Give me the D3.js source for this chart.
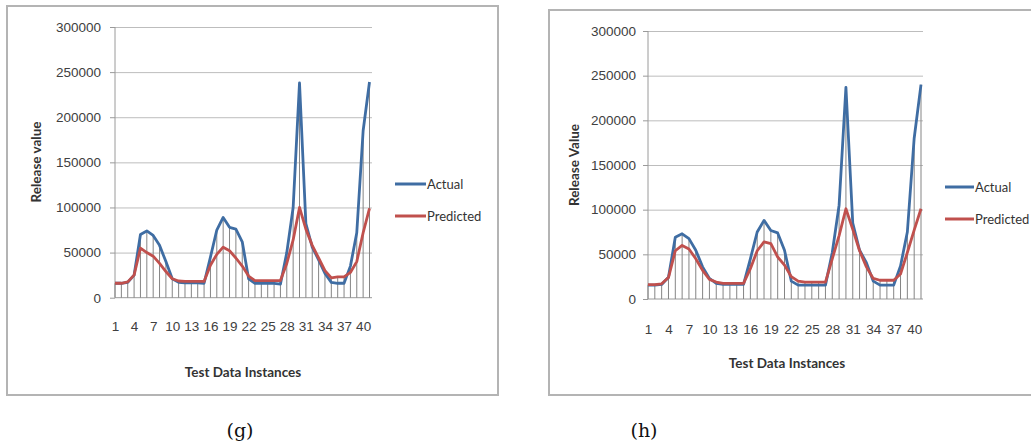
<!DOCTYPE html>
<html>
<head>
<meta charset="utf-8">
<script src="https://cdn.jsdelivr.net/npm/d3@7"></script>
<style>
    body { margin: 0; background: #fff; }
    svg { display: block; font-family: Lato, "Open Sans", sans-serif; }
    .frame { fill: #fff; stroke: #b4b4b4; stroke-width: 2; }
    .grid line { stroke: #bdbdbd; stroke-width: 1; }
    .grid path { display: none; }
    .axis path, .axis line { stroke: #9a9a9a; }
    .axis text { fill: #404040; font-size: 13.5px; }
    .axis-label { font-weight: bold; font-size: 13.5px; fill: #333; }
    .legend text { font-size: 13px; fill: #333; }
    .caption { font-family: "DejaVu Serif", serif; font-size: 19px; fill: #111; }
</style>
</head>
<body>
<svg id="chart" width="1031" height="443"></svg>
<script>
// test data instances 1..41
const instances = d3.range(1, 42);
const xTickLabels = [1, 4, 7, 10, 13, 16, 19, 22, 25, 28, 31, 34, 37, 40];
const yTickValues = [0, 50000, 100000, 150000, 200000, 250000, 300000];
const seriesNames = ["Actual", "Predicted"];
const seriesColors = ["#3f6da3", "#c0504d"];

// (g)
const actualG = [16000, 16000, 17000, 25000, 70000, 74000, 69000, 58000, 40000, 21000,
    17000, 16500, 16500, 16500, 16000, 45000, 75000, 89000, 78000, 76000,
    62000, 21000, 16000, 16000, 16000, 16000, 15000, 50000, 100000, 238000,
    82000, 56000, 42000, 27000, 17000, 16000, 16000, 35000, 72000, 185000, 239000];
const predictedG = [16000, 16000, 17500, 25000, 55000, 50000, 46000, 38000, 29000, 21000,
    18500, 18000, 18000, 18000, 18000, 36000, 48000, 56000, 52000, 44000,
    35000, 24000, 19000, 19000, 19000, 19000, 19000, 38000, 64000, 100000,
    76000, 58000, 44000, 30000, 22000, 23000, 23000, 28000, 40000, 72000, 99000];

// (h)
const actualH = [15500, 15500, 16300, 24400, 69000, 73000, 67600, 54600, 36000, 23000,
    17500, 16300, 16300, 16300, 16300, 45000, 75000, 88000, 76700, 74000,
    54500, 20000, 15500, 15500, 15500, 15500, 15500, 52000, 105000, 237000,
    85000, 54600, 40600, 20000, 15500, 15500, 15500, 37000, 75000, 180000, 240000];
const predictedH = [16000, 16000, 17000, 24000, 54000, 60000, 56000, 45000, 32000, 22000,
    19000, 17500, 17500, 17500, 17500, 34000, 54000, 64000, 62000, 47000,
    38000, 25000, 20000, 19000, 19000, 19000, 19000, 45000, 71000, 101000,
    78000, 54000, 36000, 23000, 21000, 21000, 21000, 28000, 52000, 77000, 101000];

class Release_Chart {
    constructor(svg, layout) {
        this.layout = layout;
        let g = svg.append("g");
        this.g = g;

        g.append("rect").attr("class", "frame")
            .attr("x", layout.box[0]).attr("y", layout.box[1])
            .attr("width", layout.box[2]).attr("height", layout.box[3]);

        this.xScale = d3.scalePoint().domain(instances).range([layout.left, layout.lastX]);
        this.yScale = d3.scaleLinear().domain([0, 300000]).range([layout.zeroY, layout.topY]);

        //gridlines
        g.append("g").attr("class", "grid")
            .attr("transform", "translate(" + layout.left + ",0)")
            .call(d3.axisLeft(this.yScale).tickValues(yTickValues.slice(1))
                .tickSize(-(layout.right - layout.left)).tickFormat(""));

        //y axis
        let yAx = g.append("g").attr("class", "axis")
            .attr("transform", "translate(" + layout.left + ",0)")
            .call(d3.axisLeft(this.yScale).tickValues(yTickValues).tickSize(5)
                .tickPadding(layout.yPad).tickFormat(d3.format("d")));
        yAx.select(".domain").attr("d", "M0," + layout.zeroY + "V" + layout.topY);

        //x axis
        let xAx = g.append("g").attr("class", "axis")
            .attr("transform", "translate(0," + layout.zeroY + ")")
            .call(d3.axisBottom(this.xScale).tickValues(xTickLabels).tickSize(0).tickPadding(layout.xPad));
        xAx.select(".domain").attr("d", "M" + layout.left + ",0H" + layout.right);

        g.append("text").attr("class", "axis-label")
            .text(layout.yTitle)
            .style("text-anchor", "middle")
            .attr("transform", "translate(" + layout.yTitleX + "," + layout.yTitleY + ") rotate(270)");

        g.append("text").attr("class", "axis-label")
            .text("Test Data Instances")
            .style("text-anchor", "middle")
            .attr("transform", "translate(" + layout.xTitleX + "," + layout.xTitleY + ")");

        //Legend
        let legend = g.append("g").attr("class", "legend")
            .attr("transform", "translate(" + layout.legend[0] + "," + layout.legend[1] + ")");
        seriesNames.forEach((name, i) => {
            legend.append("line")
                .attr("x1", 0).attr("x2", layout.legendLen)
                .attr("y1", i * 32).attr("y2", i * 32)
                .attr("stroke", seriesColors[i]).attr("stroke-width", 3);
            legend.append("text")
                .attr("x", layout.legendLen + 1).attr("y", i * 32 + 4.5)
                .text(name);
        });

        svg.append("text").attr("class", "caption")
            .attr("x", layout.caption[0]).attr("y", layout.caption[1])
            .style("text-anchor", "middle")
            .text(layout.captionText);
    }

    update(actual, predicted) {
        let x = this.xScale, y = this.yScale;
        let rows = instances.map((d, i) => ({ id: d, a: actual[i], p: predicted[i] }));

        //drop lines
        this.g.append("g").selectAll("line")
            .data(rows).enter().append("line")
            .attr("x1", d => x(d.id)).attr("x2", d => x(d.id))
            .attr("y1", d => y(Math.max(d.a, d.p))).attr("y2", y(0))
            .attr("stroke", "#858585").attr("stroke-width", 1);

        let line = d3.line().x(d => x(d.id)).y(d => y(d.v));
        [actual, predicted].forEach((vals, k) => {
            this.g.append("path")
                .datum(instances.map((d, i) => ({ id: d, v: vals[i] })))
                .attr("d", line)
                .attr("fill", "none")
                .attr("stroke", seriesColors[k])
                .attr("stroke-width", 2.8)
                .attr("stroke-linejoin", "round");
        });
    }
}

let svg = d3.select("#chart");

let chartG = new Release_Chart(svg, {
    box: [7, 6, 491, 389], left: 115, lastX: 369.5, right: 372, zeroY: 297.7, topY: 27,
    yPad: 9, xPad: 24, yTitle: "Release value", yTitleX: 41, yTitleY: 162,
    xTitleX: 243, xTitleY: 377, legend: [395, 184], legendLen: 31,
    caption: [240, 437], captionText: "(g)"
});
chartG.update(actualG, predictedG);

let chartH = new Release_Chart(svg, {
    box: [549, 10, 500, 385], left: 648, lastX: 921, right: 923, zeroY: 299, topY: 31,
    yPad: 7, xPad: 25, yTitle: "Release Value", yTitleX: 579, yTitleY: 165,
    xTitleX: 787, xTitleY: 368, legend: [945, 187], legendLen: 29,
    caption: [644, 437], captionText: "(h)"
});
chartH.update(actualH, predictedH);
</script>
</body>
</html>
